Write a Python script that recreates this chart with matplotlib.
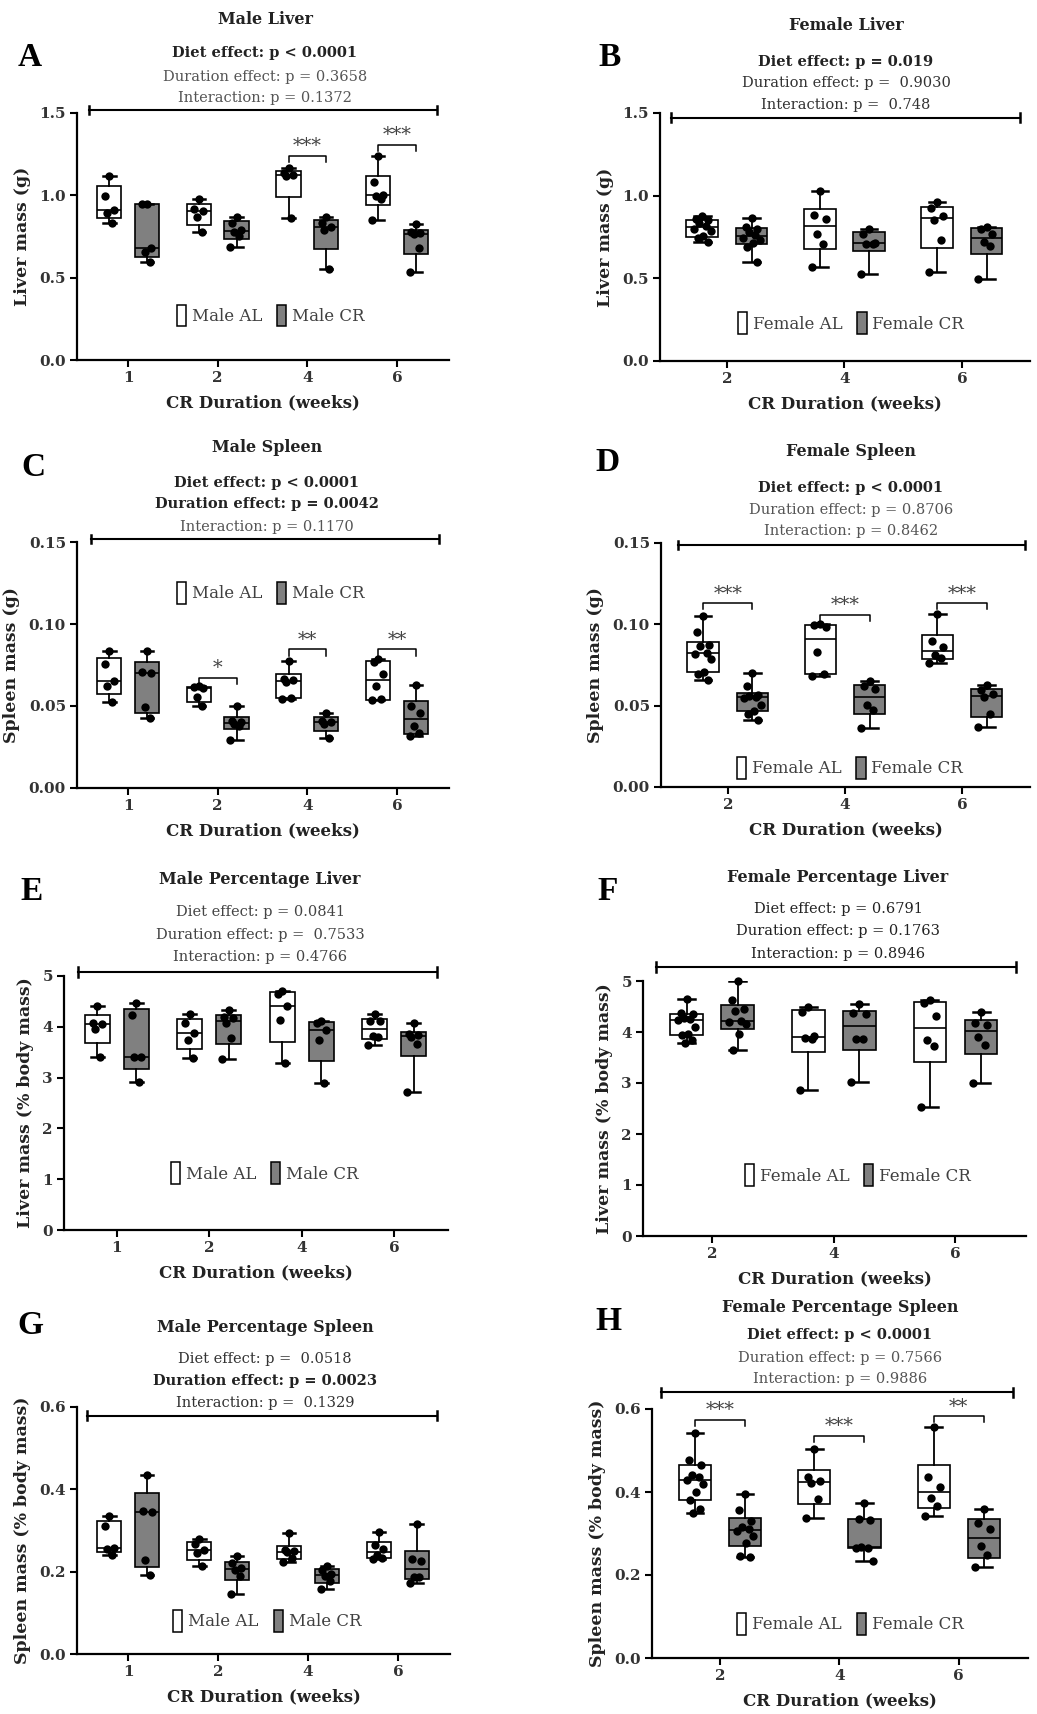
import numpy as np
import matplotlib
matplotlib.use("Agg")
import matplotlib.pyplot as plt
from matplotlib.patches import Patch
from matplotlib.ticker import FormatStrFormatter

plt.rcParams['font.family'] = ['DejaVu Serif']

weeks_male = ['1', '2', '4', '6']
weeks_female = ['2', '4', '6']

# A - male liver mass (g)
male_liver_al = [[1.115, 0.997, 0.91, 0.89, 0.835],
                 [0.977, 0.915, 0.905, 0.868, 0.776],
                 [1.165, 1.135, 1.125, 1.115, 0.865],
                 [1.24, 1.078, 1.005, 0.995, 0.975, 0.85]]
male_liver_cr = [[0.95, 0.945, 0.68, 0.655, 0.595],
                 [0.87, 0.835, 0.79, 0.775, 0.75, 0.685],
                 [0.87, 0.835, 0.81, 0.79, 0.555],
                 [0.827, 0.775, 0.77, 0.765, 0.68, 0.537]]
# B - female liver mass (g)
female_liver_al = [[0.875, 0.86, 0.85, 0.835, 0.815, 0.80, 0.785, 0.755, 0.745, 0.72],
                   [1.03, 0.885, 0.86, 0.77, 0.71, 0.57],
                   [0.96, 0.925, 0.875, 0.85, 0.73, 0.54]]
female_liver_cr = [[0.865, 0.81, 0.80, 0.78, 0.765, 0.745, 0.73, 0.715, 0.69, 0.60],
                   [0.80, 0.77, 0.715, 0.71, 0.71, 0.525],
                   [0.81, 0.80, 0.77, 0.72, 0.695, 0.495]]
# C - male spleen mass (g)
male_spleen_al = [[0.0835, 0.0755, 0.065, 0.062, 0.0527],
                  [0.062, 0.0615, 0.061, 0.0555, 0.0497],
                  [0.0776, 0.0665, 0.066, 0.0645, 0.055, 0.054],
                  [0.0785, 0.077, 0.0695, 0.062, 0.054, 0.0535]]
male_spleen_cr = [[0.0835, 0.0705, 0.070, 0.0495, 0.0425],
                  [0.0497, 0.041, 0.040, 0.039, 0.038, 0.0295],
                  [0.0455, 0.041, 0.0405, 0.039, 0.0305],
                  [0.063, 0.050, 0.046, 0.038, 0.0335, 0.032]]
# D - female spleen mass (g)
female_spleen_al = [[0.105, 0.095, 0.087, 0.0865, 0.0825, 0.082, 0.0785, 0.071, 0.0695, 0.0655],
                    [0.1005, 0.0995, 0.0985, 0.083, 0.0695, 0.0685],
                    [0.1065, 0.0895, 0.086, 0.081, 0.0795, 0.076]]
female_spleen_cr = [[0.070, 0.062, 0.0565, 0.056, 0.0555, 0.055, 0.0505, 0.047, 0.045, 0.041],
                    [0.065, 0.062, 0.0605, 0.0505, 0.0475, 0.0365],
                    [0.063, 0.0595, 0.057, 0.0555, 0.045, 0.037]]
# E - male liver (% body mass)
male_pct_liver_al = [[4.41, 4.07, 4.05, 3.96, 3.41],
                     [4.245, 4.07, 3.885, 3.75, 3.39],
                     [4.71, 4.65, 4.40, 4.13, 3.28],
                     [4.245, 4.12, 4.11, 3.82, 3.80, 3.64]]
male_pct_liver_cr = [[4.475, 4.23, 3.415, 3.41, 2.92],
                     [4.34, 4.20, 4.17, 4.07, 3.77, 3.37],
                     [4.11, 4.08, 3.93, 3.74, 2.90],
                     [4.07, 3.85, 3.83, 3.80, 3.67, 2.71]]
# F - female liver (% body mass)
female_pct_liver_al = [[4.65, 4.38, 4.36, 4.28, 4.25, 4.23, 4.10, 3.97, 3.94, 3.85, 3.78],
                       [4.50, 4.40, 3.92, 3.88, 3.87, 2.86],
                       [4.63, 4.57, 4.31, 3.85, 3.72, 2.52]]
female_pct_liver_cr = [[5.0, 4.62, 4.45, 4.42, 4.21, 4.19, 4.15, 3.96, 3.65],
                       [4.54, 4.38, 4.36, 3.87, 3.86, 3.01],
                       [4.40, 4.18, 4.13, 3.90, 3.75, 3.00]]
# G - male spleen (% body mass)
male_pct_spleen_al = [[0.335, 0.31, 0.258, 0.256, 0.241],
                      [0.28, 0.266, 0.253, 0.245, 0.214],
                      [0.293, 0.252, 0.25, 0.247, 0.232, 0.224],
                      [0.297, 0.265, 0.255, 0.24, 0.233, 0.231]]
male_pct_spleen_cr = [[0.435, 0.348, 0.346, 0.229, 0.192],
                      [0.237, 0.22, 0.21, 0.205, 0.19, 0.146],
                      [0.214, 0.205, 0.195, 0.19, 0.178, 0.157],
                      [0.315, 0.23, 0.225, 0.188, 0.186, 0.172]]
# H - female spleen (% body mass)
female_pct_spleen_al = [[0.543, 0.477, 0.465, 0.441, 0.436, 0.428, 0.42, 0.40, 0.38, 0.36, 0.35],
                        [0.504, 0.437, 0.426, 0.422, 0.383, 0.338],
                        [0.557, 0.436, 0.413, 0.385, 0.367, 0.343]]
female_pct_spleen_cr = [[0.395, 0.357, 0.33, 0.315, 0.31, 0.305, 0.295, 0.278, 0.245, 0.244],
                        [0.373, 0.335, 0.332, 0.267, 0.266, 0.265, 0.233],
                        [0.359, 0.326, 0.31, 0.269, 0.249, 0.219]]

titles = ['Male Liver', 'Female Liver', 'Male Spleen', 'Female Spleen',
          'Male Percentage Liver', 'Female Percentage Liver',
          'Male Percentage Spleen', 'Female Percentage Spleen']
stats_text = [
    ['Diet effect: p < 0.0001', 'Duration effect: p = 0.3658', 'Interaction: p = 0.1372'],
    ['Diet effect: p = 0.019', 'Duration effect: p =  0.9030', 'Interaction: p =  0.748'],
    ['Diet effect: p < 0.0001', 'Duration effect: p = 0.0042', 'Interaction: p = 0.1170'],
    ['Diet effect: p < 0.0001', 'Duration effect: p = 0.8706', 'Interaction: p = 0.8462'],
    ['Diet effect: p = 0.0841', 'Duration effect: p =  0.7533', 'Interaction: p = 0.4766'],
    ['Diet effect: p = 0.6791', 'Duration effect: p = 0.1763', 'Interaction: p = 0.8946'],
    ['Diet effect: p =  0.0518', 'Duration effect: p = 0.0023', 'Interaction: p =  0.1329'],
    ['Diet effect: p < 0.0001', 'Duration effect: p = 0.7566', 'Interaction: p = 0.9886'],
]
stats_bold = [[1, 0, 0], [1, 0, 0], [1, 1, 0], [1, 0, 0],
              [0, 0, 0], [0, 0, 0], [0, 1, 0], [1, 0, 0]]
# significance: (group index, stars, bracket height)
sig_a = [(2, '***', 1.24), (3, '***', 1.307)]
sig_c = [(1, '*', 0.0673), (2, '**', 0.0845), (3, '**', 0.0845)]
sig_d = [(0, '***', 0.1131), (1, '***', 0.106), (2, '***', 0.1131)]
sig_h = [(0, '***', 0.5735), (1, '***', 0.536), (2, '**', 0.583)]

W, H = 1037, 1714
CR_GREY = '#808080'
JIT = [0.0, -0.05, 0.05, -0.025, 0.03, -0.07, 0.07, 0.01, -0.04, 0.045, -0.015]

fig = plt.figure(figsize=(W / 100, H / 100), dpi=100)


def box_stats(v):
    v = np.asarray(v, dtype=float)
    q1, med, q3 = np.percentile(v, [25, 50, 75], method='weibull')
    return dict(med=med, q1=q1, q3=q3, whislo=v.min(), whishi=v.max(), fliers=[])


def panel(rect, letter, letter_xy, idx, title_xy, stat_ys, groups, al, cr,
          ymax, yticks, fmt, ylabel, sex, leg_xy, line, sig=None, stat_dark='#555555'):
    x0, y0, x1, y1 = rect
    ax = fig.add_axes([x0 / W, 1 - y1 / H, (x1 - x0) / W, (y1 - y0) / H])
    pos = np.arange(len(groups))
    off = 0.21
    for vals, sh, col in [(al, -off, 'white'), (cr, off, CR_GREY)]:
        ax.bxp([box_stats(v) for v in vals], positions=pos + sh, widths=0.27,
               patch_artist=True, showfliers=False, capwidths=0.14,
               boxprops=dict(facecolor=col, edgecolor='black', linewidth=1.2),
               medianprops=dict(color='black', linewidth=1.2),
               whiskerprops=dict(color='black', linewidth=1.3),
               capprops=dict(color='black', linewidth=1.8))
        for i, v in enumerate(vals):
            xs = [pos[i] + sh + JIT[k % len(JIT)] for k in range(len(v))]
            ax.scatter(xs, v, s=36, color='black', zorder=4, clip_on=False, linewidths=0)
    ax.set_xlim(-0.57, len(groups) - 1 + 0.58)
    ax.set_ylim(0, ymax)
    ax.set_xticks(pos)
    ax.set_xticklabels(groups)
    ax.set_yticks(yticks)
    ax.yaxis.set_major_formatter(FormatStrFormatter(fmt))
    for s in ['top', 'right']:
        ax.spines[s].set_visible(False)
    for s in ['left', 'bottom']:
        ax.spines[s].set_linewidth(1.6)
    ax.tick_params(width=1.5, length=5, labelsize=11, colors='black', pad=3)
    for lab in ax.get_xticklabels() + ax.get_yticklabels():
        lab.set_fontweight('bold')
        lab.set_color('#333333')
    ax.set_xlabel('CR Duration (weeks)', fontsize=12, fontweight='bold', color='#222222', labelpad=7)
    ax.set_ylabel(ylabel, fontsize=12.5, fontweight='bold', color='#222222', labelpad=6)

    # overall bar across the top
    lx0, lx1, ly = line
    ax.plot([lx0, lx1], [ly, ly], transform=ax.transAxes, color='black', lw=1.5, clip_on=False)
    for lx in (lx0, lx1):
        ax.plot([lx, lx], [ly - 0.018, ly + 0.018], transform=ax.transAxes,
                color='black', lw=1.8, clip_on=False)

    if sig:
        d = ymax * 0.025
        for g, stars, yv in sig:
            xa, xb = pos[g] - off, pos[g] + off
            ax.plot([xa, xa, xb, xb], [yv - d, yv, yv, yv - d], color='black', lw=1.1)
            ax.text((xa + xb) / 2, yv + ymax * 0.002, stars, ha='center', va='bottom',
                    fontsize=14, color='#444444')

    handles = [Patch(facecolor='white', edgecolor='black', linewidth=1.1),
               Patch(facecolor=CR_GREY, edgecolor='black', linewidth=1.1)]
    ax.legend(handles, [sex + ' AL', sex + ' CR'], ncol=2, frameon=False,
              loc='center', bbox_to_anchor=leg_xy, handlelength=0.55, handleheight=1.6,
              handletextpad=0.35, columnspacing=0.9, borderaxespad=0,
              prop=dict(size=12), labelcolor='#404040')

    fig.text(letter_xy[0] / W, 1 - letter_xy[1] / H, letter, fontsize=24,
             fontweight='bold', ha='center', va='center', family=['Liberation Serif'])
    fig.text(title_xy[0] / W, 1 - title_xy[1] / H, titles[idx], fontsize=11.5,
             fontweight='bold', ha='center', va='center', color='#222222')
    for t, b, yy in zip(stats_text[idx], stats_bold[idx], stat_ys):
        fig.text(title_xy[0] / W, 1 - yy / H, t,
                 fontsize=10.5, ha='center', va='center',
                 fontweight='bold' if b else 'normal',
                 color='#222222' if b else stat_dark)
    return ax


panel((77, 113, 449, 360), 'A', (30, 57), 0, (265, 19), (53, 77, 98),
      weeks_male, male_liver_al, male_liver_cr, 1.5, [0, 0.5, 1.0, 1.5], '%.1f',
      'Liver mass (g)', 'Male', (0.52, 0.18), (0.032, 0.968, 1.012), sig_a)
panel((660, 113, 1030, 361), 'B', (610, 57), 1, (846, 26), (62, 83, 105),
      weeks_female, female_liver_al, female_liver_cr, 1.5, [0, 0.5, 1.0, 1.5], '%.1f',
      'Liver mass (g)', 'Female', (0.516, 0.153), (0.03, 0.973, 0.98), None, '#333333')
panel((77, 542, 449, 788), 'C', (33, 467), 2, (267, 447), (483, 504, 527),
      weeks_male, male_spleen_al, male_spleen_cr, 0.15, [0, 0.05, 0.10, 0.15], '%.2f',
      'Spleen mass (g)', 'Male', (0.52, 0.793), (0.038, 0.973, 1.012), sig_c)
panel((661, 543, 1030, 787), 'D', (608, 463), 3, (851, 451), (488, 510, 531),
      weeks_female, female_spleen_al, female_spleen_cr, 0.15, [0, 0.05, 0.10, 0.15], '%.2f',
      'Spleen mass (g)', 'Female', (0.512, 0.078), (0.046, 0.986, 0.992), sig_d)
panel((64, 976, 448, 1230), 'E', (32, 892), 4, (260, 880), (912, 935, 957),
      weeks_male, male_pct_liver_al, male_pct_liver_cr, 5, [0, 1, 2, 3, 4, 5], '%d',
      'Liver mass (% body mass)', 'Male', (0.523, 0.224), (0.036, 0.971, 1.016), None, '#444444')
panel((643, 981, 1026, 1236), 'F', (608, 892), 5, (838, 877), (909, 931, 954),
      weeks_female, female_pct_liver_al, female_pct_liver_cr, 5, [0, 1, 2, 3, 4, 5], '%d',
      'Liver mass (% body mass)', 'Female', (0.561, 0.239), (0.034, 0.974, 1.055), None, '#222222')
panel((77, 1407, 450, 1654), 'G', (30, 1325), 6, (265, 1328), (1359, 1381, 1403),
      weeks_male, male_pct_spleen_al, male_pct_spleen_cr, 0.6, [0, 0.2, 0.4, 0.6], '%.1f',
      'Spleen mass (% body mass)', 'Male', (0.51, 0.134), (0.027, 0.965, 0.964), None, '#333333')
panel((652, 1409, 1028, 1658), 'H', (608, 1322), 7, (840, 1308), (1335, 1358, 1379),
      weeks_female, female_pct_spleen_al, female_pct_spleen_cr, 0.6, [0, 0.2, 0.4, 0.6], '%.1f',
      'Spleen mass (% body mass)', 'Female', (0.527, 0.137), (0.024, 0.96, 1.068), sig_h)

fig.savefig('out.png', dpi=100, facecolor='white')
